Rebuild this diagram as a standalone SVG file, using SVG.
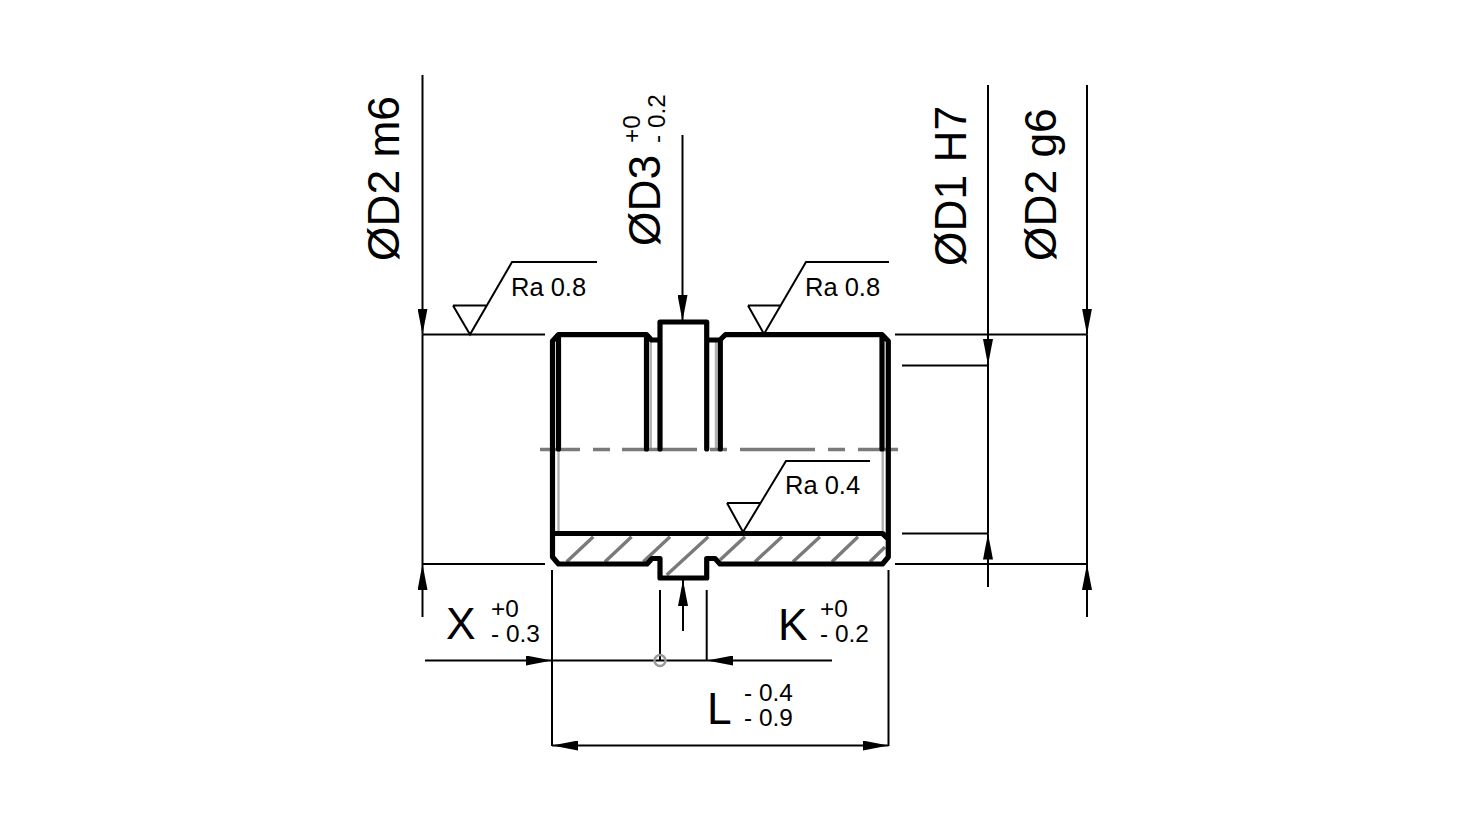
<svg xmlns="http://www.w3.org/2000/svg" width="1458" height="825" viewBox="0 0 1458 825">
<defs>
<marker id="a" markerUnits="userSpaceOnUse" viewBox="0 0 26 10" refX="26" refY="5" markerWidth="26" markerHeight="10" orient="auto-start-reverse"><path d="M0 0L26 5L0 10Z" fill="#000"/></marker>
</defs>
<style>
.d{fill:none;stroke:#000;stroke-width:2}
.t{fill:none;stroke:#000;stroke-width:5.2;stroke-linecap:round;stroke-linejoin:round}
.g{fill:none;stroke:#b0b0b0;stroke-width:2.4}
.h{fill:none;stroke:#7a7a7a;stroke-width:3.4}
text{font-family:"Liberation Sans",Arial,sans-serif;fill:#000}
.b{font-size:44.3px}
.s{font-size:24.4px}
.r{font-size:25.5px}
</style>
<rect width="1458" height="825" fill="#fff"/>
<g id="part">
<path class="g" d="M558 336.500H646M722 336.500H882M650.700 341V449M716 341V449M558.500 450V533M882.700 450V533"/>
<path class="h" d="M566.700 561.700L593.300 536.700M605 561.700L631.600 536.700M643.300 561.700L670 536.700M666.700 575L708.300 536.700M720 560L745 536.700M755 561.700L782 536.700M793 561.700L820 536.700M832 561.700L858 536.700M870 561.700L885 547"/>
<path class="h" d="M540 449.500H580M593 449.500H610M622 449.500H697M710 449.500H727M740 449.500H815M828 449.500H845M858 449.500H898"/>
<path class="t" d="M552.500 449V341L558.500 334.500H646.500L651.500 340H660V322H706.700V340H720L725.500 334.500H882L888.300 341V557L882.500 564H720L715 558.500H706.700V578H660V558.500H652L647 564H558.500L552.500 557V533.500H882.500L888.300 539M552.500 449V533.500M558.500 335V449M646.500 335V449M660 340V449M706.700 340V449M720.300 340V449M882 335V449"/>
</g>
<g id="connectors">
<path class="d" d="M423 334.500H545M423 564H545M895 334.500H1087M895 564H1087M902 365.500H988M902 533.500H988"/>
<path class="d" d="M552 570V746M888.500 570V746"/>
<path class="d" marker-end="url(#a)" d="M422.500 75V334.500"/>
<path class="d" marker-end="url(#a)" d="M422.500 617V564"/>
<path class="d" d="M422.500 334.500V564"/>
<path class="d" marker-end="url(#a)" d="M988 85V365"/>
<path class="d" marker-end="url(#a)" d="M988 587V533.500"/>
<path class="d" d="M988 365V533.500"/>
<path class="d" marker-end="url(#a)" d="M1087 85V334.500"/>
<path class="d" marker-end="url(#a)" d="M1087 617V564"/>
<path class="d" d="M1087 334.500V564"/>
<path class="d" marker-end="url(#a)" d="M682.500 135V321"/>
<path class="d" marker-end="url(#a)" d="M683 631V580"/>
<path class="d" d="M660 590V660M706.700 590V660"/>
<path class="d" marker-end="url(#a)" d="M425 660.500H552"/>
<path class="d" marker-end="url(#a)" d="M832 660.500H707"/>
<path class="d" d="M552 660.500H707"/>
<path class="d" marker-start="url(#a)" marker-end="url(#a)" d="M552 745.500H888.500"/>
<circle cx="660" cy="660.500" r="5.500" fill="none" stroke="#999" stroke-width="2.400"/>
</g>
<g id="ra1"><path class="d" d="M453 305.500H486M453 305.500L470 334.500L512 262H597"/><text class="r" x="511" y="295.500">Ra 0.8</text></g>
<g id="ra2"><path class="d" d="M748 305.500H780M748 305.500L764 334L806 262H889"/><text class="r" x="805" y="295.500">Ra 0.8</text></g>
<g id="ra3"><path class="d" d="M727 503H760M727 503L743 532L786 461H870"/><text class="r" x="785" y="494">Ra 0.4</text></g>
<g id="labels">
<text class="b" transform="translate(399 261) rotate(-90)">ØD2 m6</text>
<text class="b" transform="translate(660 246) rotate(-90)">ØD3</text>
<text class="s" transform="translate(640 143) rotate(-90)">+0</text>
<text class="s" transform="translate(665 143) rotate(-90)">- 0.2</text>
<text class="b" transform="translate(966 266) rotate(-90)">ØD1 H7</text>
<text class="b" transform="translate(1056 261) rotate(-90)">ØD2 g6</text>
<text class="b" x="446" y="639">X</text>
<text class="s" x="491" y="617">+0</text>
<text class="s" x="491" y="642">- 0.3</text>
<text class="b" x="778" y="640">K</text>
<text class="s" x="820" y="617">+0</text>
<text class="s" x="820" y="642">- 0.2</text>
<text class="b" x="707" y="724">L</text>
<text class="s" x="744" y="701">- 0.4</text>
<text class="s" x="744" y="726">- 0.9</text>
</g>
</svg>
